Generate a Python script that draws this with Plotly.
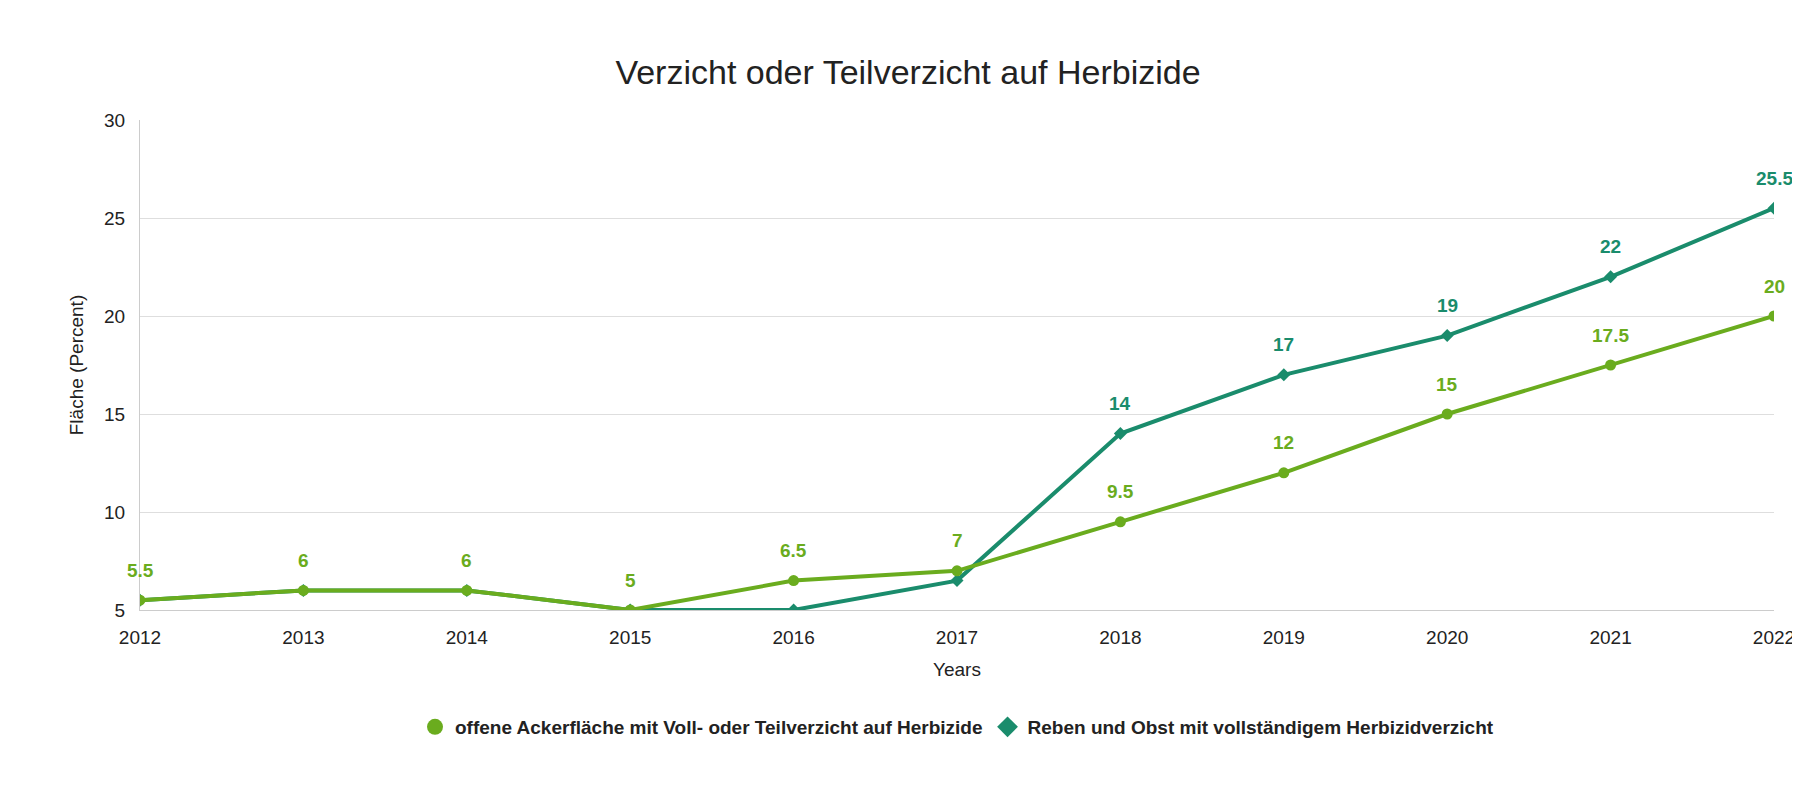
import plotly.graph_objects as go

years = [2012, 2013, 2014, 2015, 2016, 2017, 2018, 2019, 2020, 2021, 2022]
acker = [5.5, 6, 6, 5, 6.5, 7, 9.5, 12, 15, 17.5, 20]
reben = [5.5, 6, 6, 5, 5, 6.5, 14, 17, 19, 22, 25.5]
reben_labels = ["", "", "", "", "", "", "14", "17", "19", "22", "25.5"]
acker_labels = ["5.5", "6", "6", "5", "6.5", "7", "9.5", "12", "15", "17.5", "20"]

green = "#6aac1e"
teal = "#1a8c6c"
font = "Liberation Sans, Arial, sans-serif"
n1 = "offene Ackerfläche mit Voll- oder Teilverzicht auf Herbizide"
n2 = "Reben und Obst mit vollständigem Herbizidverzicht"

fig = go.Figure()
fig.add_trace(go.Scatter(
    x=years, y=reben, mode="lines+markers", showlegend=False,
    line=dict(color=teal, width=4), marker=dict(symbol="diamond", size=10, color=teal)))
fig.add_trace(go.Scatter(
    x=years, y=acker, mode="lines+markers", showlegend=False,
    line=dict(color=green, width=4), marker=dict(symbol="circle", size=11, color=green)))
# labels raised above points
for ys, lab, col in [(reben, reben_labels, teal), (acker, acker_labels, green)]:
    for x, y, t in zip(years, ys, lab):
        if t:
            fig.add_annotation(x=x, y=y, text=t, showarrow=False, yshift=30,
                               font=dict(color=col, size=19, family=font, weight="bold"))
fig.add_trace(go.Scatter(x=[None], y=[None], mode="markers", name=n1,
                         marker=dict(symbol="circle", size=28, color=green)))
fig.add_trace(go.Scatter(x=[None], y=[None], mode="markers", name=n2,
                         marker=dict(symbol="diamond", size=28, color=teal)))

fig.update_layout(
    width=1800, height=800, plot_bgcolor="white", paper_bgcolor="white",
    font=dict(family=font, size=18, color="#222"),
    title=dict(text="Verzicht oder Teilverzicht auf Herbizide", x=0.5, y=0.935, xanchor="center",
               font=dict(size=34, color="#222")),
    margin=dict(l=132, r=34, t=112, b=198),
    xaxis=dict(title=dict(text="Years", font=dict(size=19)), range=[2012, 2022], tickvals=years,
               showgrid=False, showline=True, linecolor="#ccc", ticks="outside", ticklen=10,
               tickcolor="rgba(0,0,0,0)", tickfont=dict(size=19)),
    yaxis=dict(title=dict(text="Fläche (Percent)", font=dict(size=19)), range=[5, 30],
               tickvals=[5, 10, 15, 20, 25, 30], gridcolor="#dedede", zeroline=False,
               showline=True, linecolor="#ccc", ticks="outside", ticklen=10,
               tickcolor="rgba(0,0,0,0)", tickfont=dict(size=19)),
    legend=dict(orientation="h", x=0.5, xanchor="center", y=-0.2, yanchor="top",
                font=dict(size=19, weight="bold"), itemsizing="trace"),
)
fig.write_html("out.html")
